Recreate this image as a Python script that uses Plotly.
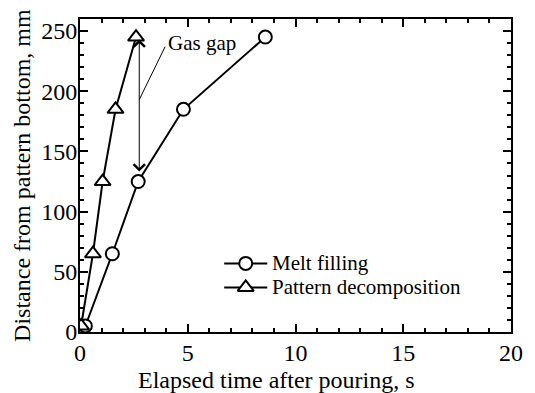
import plotly.graph_objects as go

# Data
melt_t = [0.25, 1.5, 2.7, 4.8, 8.6]
melt_d = [5, 65, 125, 185, 245]
pat_t = [0.05, 0.6, 1.05, 1.65, 2.6]
pat_d = [5, 65, 125, 185, 245]

series_names = ["Melt filling", "Pattern decomposition"]
x_ticks = [0, 5, 10, 15, 20]
y_ticks = [0, 50, 100, 150, 200, 250]

FONT = "Liberation Serif"

circle = dict(symbol="circle", size=13, color="white", line=dict(color="black", width=2))
tri = dict(symbol="triangle-up", size=14, color="white", line=dict(color="black", width=2))
line_style = dict(color="black", width=2)

fig = go.Figure()
fig.add_trace(go.Scatter(x=melt_t, y=melt_d, mode="lines+markers", name=series_names[0],
                         line=line_style, marker=circle, showlegend=False))
fig.add_trace(go.Scatter(x=pat_t, y=pat_d, mode="lines+markers", name=series_names[1],
                         line=line_style, marker=tri, showlegend=False))

# Custom legend (compact row spacing like the original)
leg_x0, leg_x1, leg_xm, leg_tx = 6.69, 8.69, 7.69, 8.85
leg_rows = [57.0, 37.0]
for name, mk, yy in zip(series_names, [circle, tri], leg_rows):
    fig.add_trace(go.Scatter(x=[leg_x0, leg_x1], y=[yy, yy], mode="lines", line=line_style,
                             showlegend=False, hoverinfo="skip"))
    fig.add_trace(go.Scatter(x=[leg_xm], y=[yy], mode="markers", marker=mk,
                             showlegend=False, hoverinfo="skip"))
    fig.add_annotation(x=leg_tx, y=yy, xref="x", yref="y", text=name, showarrow=False,
                       xanchor="left", yanchor="middle", borderpad=0,
                       font=dict(family=FONT, size=21, color="black"))

# Gas gap double arrow between the two curves
gap_x = 2.75
fig.add_annotation(
    x=gap_x, y=pat_d[-1] - 2, ax=gap_x, ay=melt_d[2] + 7,
    xref="x", yref="y", axref="x", ayref="y", text="",
    showarrow=True, arrowside="end+start", arrowhead=4, startarrowhead=4,
    arrowsize=2.2, startarrowsize=2.2, arrowwidth=1, arrowcolor="black",
)
fig.add_shape(type="line", x0=gap_x, y0=193, x1=3.95, y1=237,
              xref="x", yref="y", line=dict(color="black", width=1))
fig.add_annotation(
    x=3.99, y=240, xref="x", yref="y", text="Gas gap", showarrow=False,
    xanchor="left", yanchor="middle", font=dict(family=FONT, size=21, color="black"),
)

# Axis titles (placed like the original)
fig.add_annotation(
    x=0.457, y=-0.153, xref="paper", yref="paper", text="Elapsed time after pouring, s",
    showarrow=False, xanchor="center", yanchor="middle",
    font=dict(family=FONT, size=24, color="black"),
)
fig.add_annotation(
    x=-0.136, y=0.5, xref="paper", yref="paper", text="Distance from pattern bottom, mm",
    showarrow=False, xanchor="center", yanchor="middle", textangle=-90,
    font=dict(family=FONT, size=24, color="black"),
)

axis_common = dict(
    showline=True, linecolor="black", linewidth=2, mirror="ticks",
    ticks="inside", ticklen=8, tickwidth=1.5, tickcolor="black",
    showgrid=False, zeroline=False,
    tickfont=dict(family=FONT, size=24, color="black"),
)

fig.update_layout(
    width=535, height=393,
    margin=dict(l=80, r=13, t=19, b=61),
    paper_bgcolor="white", plot_bgcolor="white",
    font=dict(family=FONT, size=24, color="black"),
    xaxis=dict(range=[0, 20], tickvals=x_ticks, ticklabelstandoff=-2,
               minor=dict(dtick=1, ticks="inside", ticklen=4, tickcolor="black", tickwidth=1.5),
               **axis_common),
    yaxis=dict(range=[0, 260], tickvals=y_ticks, ticklabelstandoff=-4,
               minor=dict(dtick=10, ticks="inside", ticklen=4, tickcolor="black", tickwidth=1.5),
               **axis_common),
    showlegend=False,
)

fig.write_html("out.html")
